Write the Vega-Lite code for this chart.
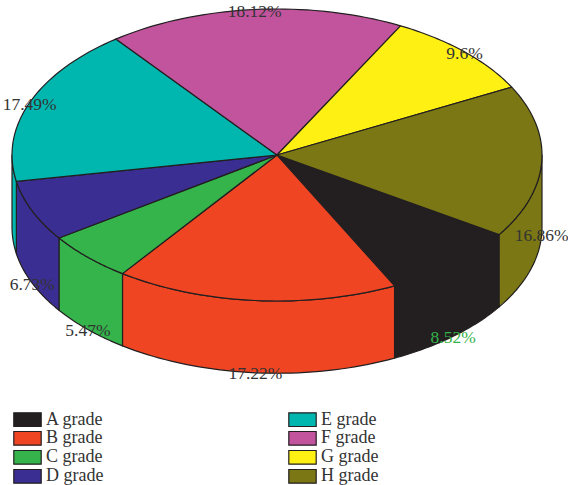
{
  "$schema": "https://vega.github.io/schema/vega-lite/v6.json",
  "width": 568,
  "height": 485,
  "autosize": "none",
  "padding": 0,
  "background": "white",
  "config": {"view": {"stroke": null}},
  "data": {
    "values": [
      {"grade": "A grade", "share": 8.52},
      {"grade": "B grade", "share": 17.22},
      {"grade": "C grade", "share": 5.47},
      {"grade": "D grade", "share": 6.73},
      {"grade": "E grade", "share": 17.49},
      {"grade": "F grade", "share": 18.12},
      {"grade": "G grade", "share": 9.6},
      {"grade": "H grade", "share": 16.86}
    ]
  },
  "transform": [
    {"window": [{"op": "sum", "field": "share", "as": "cum"}], "frame": [null, 0]},
    {"calculate": "33 + (datum.cum - datum.share) * 3.6", "as": "a0"},
    {"calculate": "33 + datum.cum * 3.6", "as": "a1"}
  ],
  "layer": [
    {
      "description": "Side walls of the slices that face the viewer",
      "transform": [
        {"filter": "datum.a0 < 180 || datum.a1 > 360"},
        {"calculate": "[0,0.025,0.05,0.075,0.1,0.125,0.15,0.175,0.2,0.225,0.25,0.275,0.3,0.325,0.35,0.375,0.4,0.425,0.45,0.475,0.5,0.525,0.55,0.575,0.6,0.625,0.65,0.675,0.7,0.725,0.75,0.775,0.8,0.825,0.85,0.875,0.9,0.925,0.95,0.975,1]", "as": "t"},
        {"flatten": ["t"]},
        {"calculate": "datum.a0 + datum.t * (datum.a1 - datum.a0)", "as": "raw"},
        {"calculate": "datum.raw > 360 ? datum.raw - 360 : (datum.raw > 270 ? 0 : min(datum.raw, 180))", "as": "deg"},
        {"calculate": "cos(datum.deg * PI / 180)", "as": "px"},
        {"calculate": "sin(datum.deg * PI / 180)", "as": "py"},
        {"calculate": "datum.py + 0.495", "as": "pyBase"}
      ],
      "mark": {"type": "area", "stroke": "#231f20", "strokeWidth": 1.2, "strokeJoin": "round"},
      "encoding": {
        "x": {"field": "px", "type": "quantitative", "axis": null, "scale": {"domain": [-1.0453, 1.0981], "range": [0, 568], "nice": false, "zero": false}},
        "y": {"field": "py", "type": "quantitative", "axis": null, "scale": {"domain": [2.2603, -1.0616], "range": [485, 0], "nice": false, "zero": false}},
        "y2": {"field": "pyBase"},
        "detail": {"field": "grade"},
        "fill": {
          "field": "grade",
          "type": "nominal",
          "scale": {
            "domain": ["A grade", "B grade", "C grade", "D grade", "E grade", "F grade", "G grade", "H grade"],
            "range": ["#231f20", "#f04523", "#34b44a", "#3a2e92", "#00b7b0", "#c2549d", "#fff014", "#7a7714"]
          },
          "legend": {
            "title": null,
            "orient": "none",
            "legendX": 13,
            "legendY": 411,
            "columns": 2,
            "direction": "vertical",
            "symbolType": "M-1,-0.5H1V0.5H-1Z",
            "symbolSize": 750,
            "symbolStrokeColor": "#3a3a3a",
            "symbolStrokeWidth": 1.2,
            "symbolOpacity": 1,
            "labelFont": "Liberation Serif",
            "labelFontSize": 18,
            "labelColor": "#333333",
            "labelOffset": 4,
            "clipHeight": 16.7,
            "rowPadding": 0,
            "columnPadding": 184,
            "gridAlign": "all"
          }
        }
      }
    },
    {
      "description": "Top faces of the slices",
      "transform": [
        {"calculate": "[-1,0,0.025,0.05,0.075,0.1,0.125,0.15,0.175,0.2,0.225,0.25,0.275,0.3,0.325,0.35,0.375,0.4,0.425,0.45,0.475,0.5,0.525,0.55,0.575,0.6,0.625,0.65,0.675,0.7,0.725,0.75,0.775,0.8,0.825,0.85,0.875,0.9,0.925,0.95,0.975,1,2]", "as": "t"},
        {"flatten": ["t"]},
        {"calculate": "datum.t < 0 || datum.t > 1 ? 0 : 1", "as": "r"},
        {"calculate": "datum.a0 + datum.t * (datum.a1 - datum.a0)", "as": "deg"},
        {"calculate": "datum.r * cos(datum.deg * PI / 180)", "as": "px"},
        {"calculate": "datum.r * sin(datum.deg * PI / 180)", "as": "py"}
      ],
      "mark": {"type": "line", "filled": true, "stroke": "#231f20", "strokeWidth": 1.2, "strokeJoin": "round"},
      "encoding": {
        "x": {"field": "px", "type": "quantitative"},
        "y": {"field": "py", "type": "quantitative"},
        "order": {"field": "t", "type": "quantitative"},
        "detail": {"field": "grade"},
        "fill": {"field": "grade", "type": "nominal"}
      }
    },
    {
      "description": "Percentage labels on the rim",
      "transform": [
        {"calculate": "(datum.a0 + datum.a1) / 2 * PI / 180", "as": "mid"},
        {"calculate": "cos(datum.mid)", "as": "px"},
        {"calculate": "sin(datum.mid) + (sin(datum.mid) > 0 ? 0.493 : 0)", "as": "py"},
        {"calculate": "datum.share + '%'", "as": "label"}
      ],
      "mark": {"type": "text", "font": "Liberation Serif", "fontSize": 17.5, "align": "center", "baseline": "middle", "dy": 2},
      "encoding": {
        "x": {"field": "px", "type": "quantitative"},
        "y": {"field": "py", "type": "quantitative"},
        "text": {"field": "label", "type": "nominal"},
        "color": {"condition": {"test": "datum.grade === 'A grade'", "value": "#34b44a"}, "value": "#333333"}
      }
    }
  ]
}
